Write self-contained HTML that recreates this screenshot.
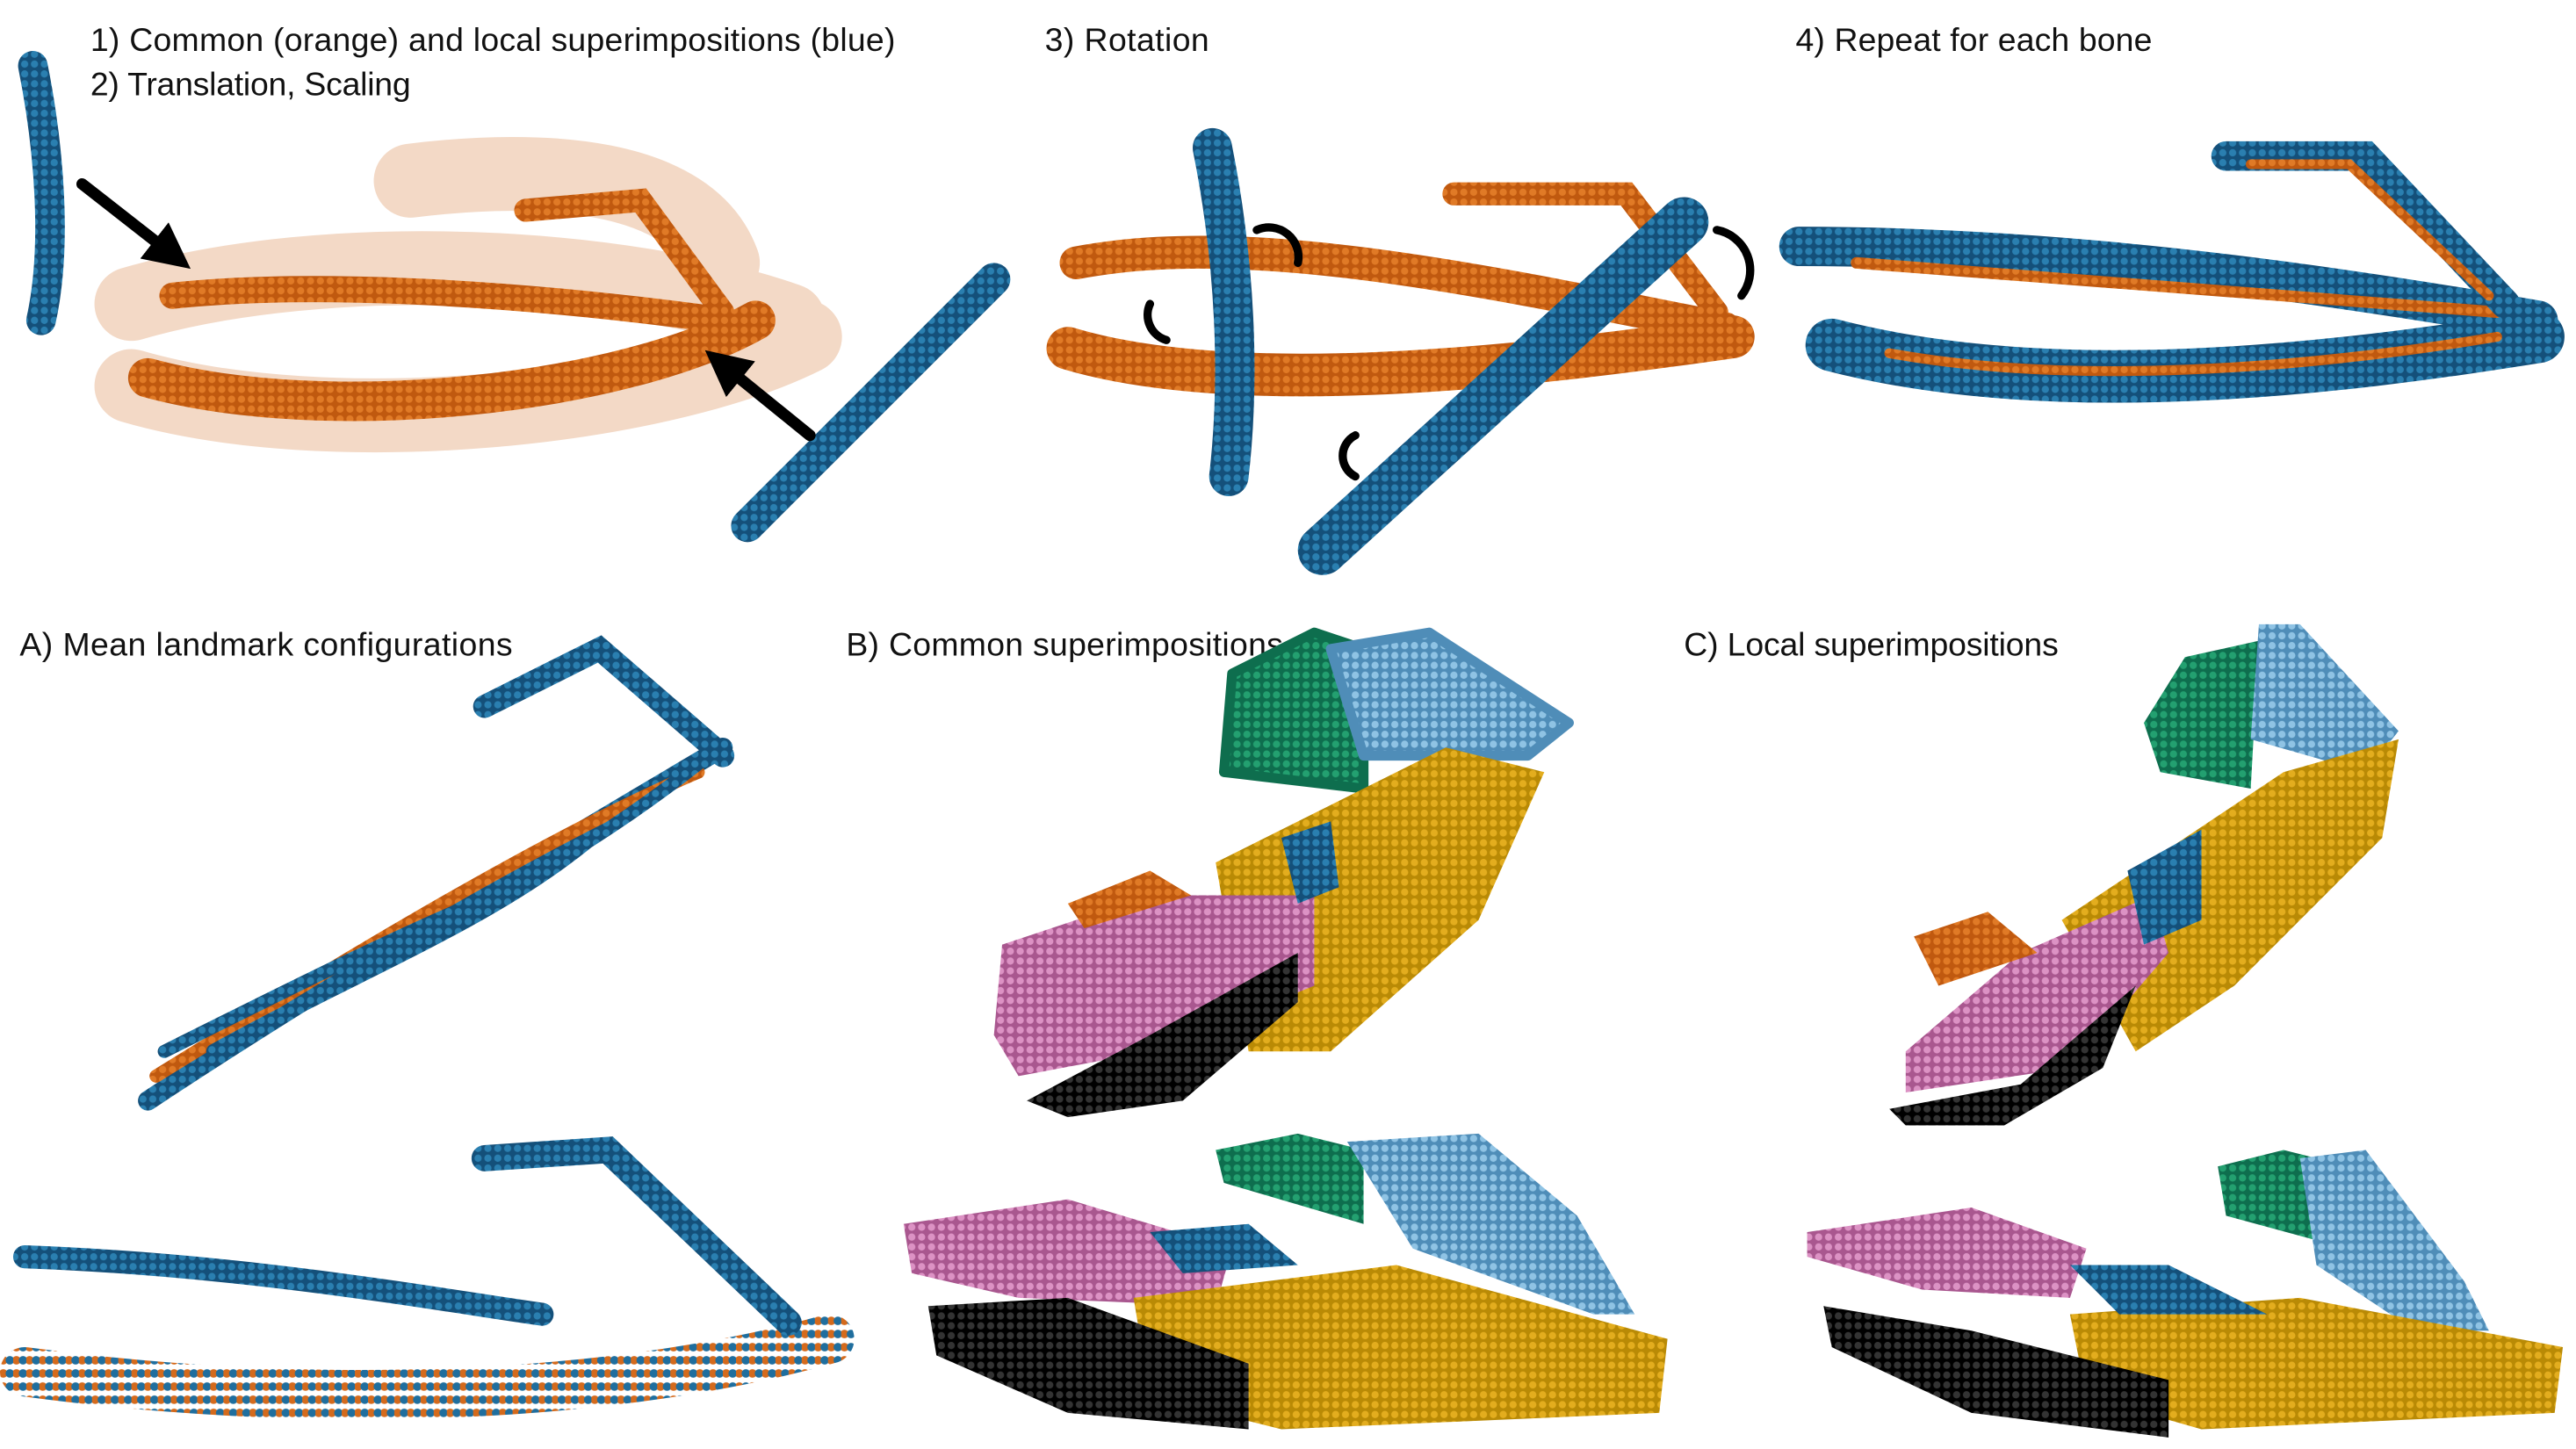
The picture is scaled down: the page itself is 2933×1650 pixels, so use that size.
<!DOCTYPE html>
<html><head><meta charset="utf-8"><style>
html,body{margin:0;padding:0;background:#fff;}
svg{display:block;}
text{font-family:"Liberation Sans Narrow","Liberation Sans",sans-serif;fill:#111;font-size:20px;}
</style></head><body>
<svg width="2933" height="1650" viewBox="0 0 1568 882" preserveAspectRatio="none" xmlns="http://www.w3.org/2000/svg">
<defs>
<pattern id="dotO" width="6" height="6" patternUnits="userSpaceOnUse"><rect width="6" height="6" fill="#c0590f"/><circle cx="3" cy="3" r="2.2" fill="#e07a26"/></pattern>
<pattern id="dotB" width="6" height="6" patternUnits="userSpaceOnUse"><rect width="6" height="6" fill="#14507a"/><circle cx="3" cy="3" r="2.2" fill="#2a7fb0"/></pattern>
<pattern id="dotG" width="6" height="6" patternUnits="userSpaceOnUse"><rect width="6" height="6" fill="#0e6e4e"/><circle cx="3" cy="3" r="2.2" fill="#23a070"/></pattern>
<pattern id="dotL" width="6" height="6" patternUnits="userSpaceOnUse"><rect width="6" height="6" fill="#4f8db8"/><circle cx="3" cy="3" r="2.2" fill="#8fc3e4"/></pattern>
<pattern id="dotY" width="6" height="6" patternUnits="userSpaceOnUse"><rect width="6" height="6" fill="#b98a05"/><circle cx="3" cy="3" r="2.2" fill="#e3ad1e"/></pattern>
<pattern id="dotP" width="6" height="6" patternUnits="userSpaceOnUse"><rect width="6" height="6" fill="#a9578f"/><circle cx="3" cy="3" r="2.2" fill="#dc92c4"/></pattern>
<pattern id="dotK" width="6" height="6" patternUnits="userSpaceOnUse"><rect width="6" height="6" fill="#000"/><circle cx="3" cy="3" r="2.2" fill="#333"/></pattern>
<pattern id="dotM" width="8" height="8" patternUnits="userSpaceOnUse"><rect width="8" height="8" fill="#fff"/><circle cx="2" cy="4" r="2.6" fill="#d46a1c"/><circle cx="6" cy="4" r="2.6" fill="#1f6e9e"/></pattern>
<marker id="ah" markerWidth="4" markerHeight="4" refX="2" refY="2" orient="auto"><path d="M0,0 L4,2 L0,4 z" fill="#000"/></marker>
</defs>
<g>
<text x="55" y="31" textLength="490">1) Common (orange) and local superimpositions (blue)</text>
<text x="55" y="58" textLength="195">2) Translation, Scaling</text>
<text x="636" y="31" textLength="100">3) Rotation</text>
<text x="1093" y="31" textLength="217">4) Repeat for each bone</text>
<text x="12" y="399" textLength="300">A) Mean landmark configurations</text>
<text x="515" y="399" textLength="266">B) Common superimpositions</text>
<text x="1025" y="399" textLength="228">C) Local superimpositions</text>
</g>
<g stroke-linecap="round" fill="none">
<path d="M80,185 C200,150 380,160 480,195 M80,235 C200,270 400,250 490,205 M250,110 C330,100 420,105 440,160" stroke="#e8b48e" stroke-width="45" opacity="0.5"/>
<path d="M105,180 C200,170 330,180 440,195" stroke="url(#dotO)" stroke-width="16"/>
<path d="M90,230 C200,260 380,240 460,195" stroke="url(#dotO)" stroke-width="24"/>
<path d="M320,128 L390,122 L440,190" stroke="url(#dotO)" stroke-width="14"/>
<path d="M20,40 C30,90 35,150 25,195" stroke="url(#dotB)" stroke-width="18"/>
<path d="M455,320 L605,170" stroke="url(#dotB)" stroke-width="20"/>
<path d="M50,112 L105,155" stroke="#000" stroke-width="7" marker-end="url(#ah)"/>
<path d="M493,265 L440,222" stroke="#000" stroke-width="7" marker-end="url(#ah)"/>
</g>
<g stroke-linecap="round" fill="none">
<path d="M655,160 C760,140 900,170 1050,200" stroke="url(#dotO)" stroke-width="20"/>
<path d="M650,212 C760,245 950,220 1055,205" stroke="url(#dotO)" stroke-width="26"/>
<path d="M885,118 L990,118 L1045,190" stroke="url(#dotO)" stroke-width="14"/>
<path d="M738,90 C752,160 755,230 748,290" stroke="url(#dotB)" stroke-width="24"/>
<path d="M805,335 L1025,135" stroke="url(#dotB)" stroke-width="30"/>
<path d="M765,140 a18,18 0 0 1 25,20 M700,185 a16,16 0 0 0 10,22 M825,265 a14,14 0 0 0 0,25 M1045,140 a25,25 0 0 1 15,40" stroke="#000" stroke-width="5"/>
</g>
<g stroke-linecap="round" fill="none">
<path d="M1095,150 C1250,150 1400,170 1545,195" stroke="url(#dotB)" stroke-width="24"/>
<path d="M1115,210 C1250,245 1420,225 1545,205" stroke="url(#dotB)" stroke-width="32"/>
<path d="M1130,160 C1250,170 1400,180 1520,190" stroke="url(#dotO)" stroke-width="7"/>
<path d="M1150,215 C1260,235 1400,225 1520,205" stroke="url(#dotO)" stroke-width="6"/>
<path d="M1355,95 L1440,95 L1525,185" stroke="url(#dotB)" stroke-width="18"/>
<path d="M1370,100 L1430,100 L1515,180" stroke="url(#dotO)" stroke-width="6"/>
</g>
<g stroke-linecap="round" fill="none">
<path d="M90,670 C180,610 330,520 440,455" stroke="url(#dotB)" stroke-width="12"/>
<path d="M95,655 C200,590 330,510 425,470" stroke="url(#dotO)" stroke-width="8"/>
<path d="M100,640 C180,600 240,570 300,545 C340,525 380,500 425,465" stroke="url(#dotB)" stroke-width="8"/>
<path d="M130,640 C220,590 300,560 360,510" stroke="url(#dotB)" stroke-width="9"/>
<path d="M295,430 L365,395 L440,460" stroke="url(#dotB)" stroke-width="14"/>
<path d="M15,765 C150,770 260,790 330,800" stroke="url(#dotB)" stroke-width="14"/>
<path d="M15,835 C200,860 380,850 505,815" stroke="url(#dotM)" stroke-width="30"/>
<path d="M295,705 L370,700 L480,805" stroke="url(#dotB)" stroke-width="16"/>
</g>
<g stroke-linecap="round" stroke-linejoin="round">
<path d="M745,470 L750,410 L800,385 L830,395 L830,480 Z" fill="url(#dotG)" stroke="#0e6e4e" stroke-width="6"/>
<path d="M810,395 L870,385 L955,440 L930,460 L830,460 Z" fill="url(#dotL)" stroke="#4f8db8" stroke-width="6"/>
<path d="M740,525 L880,455 L940,470 L900,560 L810,640 L760,640 Z" fill="url(#dotY)"/>
<path d="M610,575 L700,545 L800,545 L800,600 L700,640 L620,655 L605,630 Z" fill="url(#dotP)"/>
<path d="M625,670 L700,630 L790,580 L790,610 L720,670 L650,680 Z" fill="url(#dotK)"/>
<path d="M650,550 L700,530 L725,545 L660,565 Z" fill="url(#dotO)"/>
<path d="M780,510 L810,500 L815,540 L790,550 Z" fill="url(#dotB)"/>
<path d="M740,700 L790,690 L830,700 L830,745 L745,720 Z" fill="url(#dotG)"/>
<path d="M820,695 L900,690 L960,740 L995,800 L970,800 L860,760 Z" fill="url(#dotL)"/>
<path d="M550,745 L650,730 L750,760 L740,795 L620,790 L555,775 Z" fill="url(#dotP)"/>
<path d="M690,790 L850,770 L1015,815 L1010,860 L780,870 L700,850 Z" fill="url(#dotY)"/>
<path d="M565,795 L650,790 L760,830 L760,870 L650,860 L570,825 Z" fill="url(#dotK)"/>
<path d="M700,750 L760,745 L790,770 L720,775 Z" fill="url(#dotB)"/>
</g>
<g stroke-linecap="round" stroke-linejoin="round">
<path d="M1305,440 L1330,400 L1375,390 L1370,480 L1315,470 Z" fill="url(#dotG)"/>
<path d="M1375,380 L1400,380 L1460,445 L1440,470 L1370,450 Z" fill="url(#dotL)"/>
<path d="M1255,560 L1390,470 L1460,450 L1450,510 L1360,600 L1300,640 Z" fill="url(#dotY)"/>
<path d="M1160,640 L1230,580 L1310,545 L1320,580 L1260,650 L1160,665 Z" fill="url(#dotP)"/>
<path d="M1150,675 L1230,660 L1300,600 L1280,650 L1220,685 L1160,685 Z" fill="url(#dotK)"/>
<path d="M1165,570 L1210,555 L1240,580 L1180,600 Z" fill="url(#dotO)"/>
<path d="M1295,530 L1340,505 L1340,560 L1305,575 Z" fill="url(#dotB)"/>
<path d="M1350,710 L1390,700 L1410,705 L1410,755 L1355,740 Z" fill="url(#dotG)"/>
<path d="M1400,705 L1440,700 L1500,780 L1515,810 L1470,810 L1410,770 Z" fill="url(#dotL)"/>
<path d="M1100,750 L1200,735 L1270,760 L1260,790 L1170,785 L1100,765 Z" fill="url(#dotP)"/>
<path d="M1260,800 L1400,790 L1560,820 L1555,860 L1340,870 L1270,850 Z" fill="url(#dotY)"/>
<path d="M1110,795 L1200,810 L1320,840 L1320,875 L1200,860 L1115,820 Z" fill="url(#dotK)"/>
<path d="M1260,770 L1320,770 L1380,800 L1290,800 Z" fill="url(#dotB)"/>
</g>
</svg>
</body></html>
